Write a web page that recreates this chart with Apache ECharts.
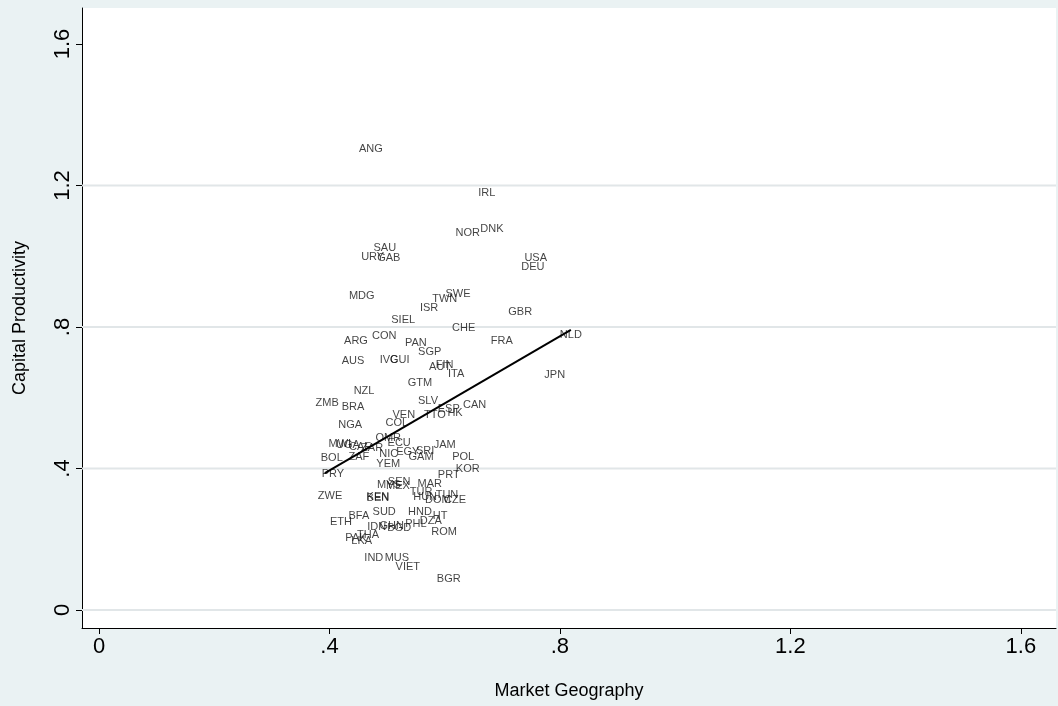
<!DOCTYPE html>
<html>
<head>
<meta charset="utf-8">
<script src="https://cdn.jsdelivr.net/npm/echarts@6/dist/echarts.min.js"></script>
<style>
html,body{margin:0;padding:0;background:#EAF2F3;}
#c{width:1058px;height:706px;}
</style>
</head>
<body>
<div id="c"></div>
<script>
const countries = ["ANG","IRL","NOR","DNK","SAU","URY","GAB","USA","DEU","MDG","SWE","TWN","ISR","GBR","SIEL","CHE","CON","ARG","FRA","NLD","PAN","SGP","AUS","IVC","GUI","FIN","AUT","ITA","JPN","GTM","NZL","ZMB","BRA","SLV","ESP","CAN","TTO","HK","VEN","COL","NGA","OMR","ECU","JAM","MWI","UGA","CAF","ZAR","BOL","ZAF","NIC","EGY","SRI","GAM","POL","YEM","PRY","PRT","KOR","SEN","MYS","MEX","MAR","TUR","HUN","TUN","DOM","CZE","ZWE","KEN","BEN","SUD","BFA","HND","HT","ETH","IDN","GHN","BGD","PHL","DZA","ROM","PAK","THA","LKA","IND","MUS","VIET","BGR"];
const marketGeography = [0.472,0.673,0.640,0.682,0.496,0.475,0.503,0.758,0.753,0.456,0.623,0.600,0.573,0.731,0.528,0.633,0.495,0.446,0.699,0.819,0.550,0.574,0.441,0.503,0.522,0.600,0.592,0.620,0.791,0.557,0.460,0.396,0.441,0.571,0.607,0.652,0.583,0.618,0.529,0.517,0.436,0.502,0.521,0.600,0.418,0.432,0.453,0.474,0.404,0.451,0.503,0.536,0.566,0.559,0.632,0.502,0.406,0.607,0.640,0.521,0.503,0.519,0.574,0.559,0.566,0.604,0.588,0.618,0.401,0.484,0.484,0.495,0.451,0.557,0.592,0.420,0.482,0.508,0.521,0.550,0.576,0.599,0.446,0.467,0.456,0.477,0.517,0.536,0.607];
const capitalProductivity = [1.303,1.179,1.066,1.077,1.023,0.998,0.995,0.995,0.970,0.888,0.893,0.879,0.854,0.842,0.820,0.797,0.775,0.760,0.760,0.777,0.755,0.729,0.704,0.707,0.707,0.693,0.687,0.667,0.664,0.642,0.619,0.585,0.574,0.591,0.568,0.580,0.551,0.557,0.551,0.529,0.523,0.486,0.472,0.466,0.469,0.466,0.461,0.458,0.430,0.432,0.441,0.447,0.449,0.432,0.432,0.413,0.384,0.382,0.399,0.362,0.353,0.351,0.356,0.334,0.319,0.325,0.311,0.311,0.322,0.319,0.317,0.277,0.266,0.277,0.266,0.249,0.235,0.237,0.232,0.243,0.252,0.220,0.204,0.212,0.195,0.147,0.147,0.122,0.088];
const fitX = [0.392, 0.819];
const fitY = [0.387, 0.792];
const tickValues = [0, 0.4, 0.8, 1.2, 1.6];
const tickLabels = ["0", ".4", ".8", "1.2", "1.6"];
const gridValues = [0, 0.4, 0.8, 1.2];
const xMin = -0.0295, xMax = 1.661, yMin = -0.0509, yMax = 1.7018;

const fmt = v => { const i = tickValues.findIndex(t => Math.abs(t - v) < 1e-6); return i >= 0 ? tickLabels[i] : ''; };
const pts = countries.map((c, i) => ({ value: [marketGeography[i], capitalProductivity[i]], name: c }));

const gridSeries = gridValues.map(v => ({
  type: 'line', data: [[xMin, v], [xMax, v]], showSymbol: false, symbol: 'none', silent: true, z: 1,
  lineStyle: { color: '#e1e6e8', width: 2 }
}));

const chart = echarts.init(document.getElementById('c'), null, { renderer: 'canvas' });
chart.setOption({
  backgroundColor: '#EAF2F3',
  animation: false,
  grid: { left: 82, top: 8, right: 2, bottom: 78, show: true, backgroundColor: '#ffffff', borderWidth: 0 },
  xAxis: {
    type: 'value', min: xMin, max: xMax,
    axisLine: { show: true, onZero: false, lineStyle: { color: '#000', width: 1 } },
    axisTick: { show: true, length: 6, customValues: tickValues, lineStyle: { color: '#000' } },
    axisLabel: { customValues: tickValues, formatter: fmt, color: '#000', fontSize: 22, fontFamily: 'Liberation Sans, Arial', margin: 8 },
    splitLine: { show: false },
    name: 'Market Geography', nameLocation: 'middle', nameGap: 54,
    nameTextStyle: { fontSize: 18, color: '#000', fontFamily: 'Liberation Sans, Arial' }
  },
  yAxis: {
    type: 'value', min: yMin, max: yMax,
    axisLine: { show: true, onZero: false, lineStyle: { color: '#000', width: 1 } },
    axisTick: { show: true, length: 6, customValues: tickValues, lineStyle: { color: '#000' } },
    axisLabel: { customValues: tickValues, formatter: fmt, rotate: 90, color: '#000', fontSize: 22, fontFamily: 'Liberation Sans, Arial', margin: 8 },
    splitLine: { show: false },
    name: 'Capital Productivity', nameLocation: 'middle', nameGap: 53, nameRotate: 90,
    nameTextStyle: { fontSize: 18, color: '#000', fontFamily: 'Liberation Sans, Arial' }
  },
  series: gridSeries.concat([
    {
      type: 'scatter', data: pts, symbolSize: 0, silent: true,
      label: { show: true, position: [0, 0], align: 'center', verticalAlign: 'middle', formatter: p => p.name, color: '#111', fontSize: 11, fontFamily: 'Liberation Sans, Arial', textBorderWidth: 0 },
      labelLayout: { hideOverlap: false },
      z: 3
    },
    {
      type: 'line', data: fitX.map((x, i) => [x, fitY[i]]), showSymbol: false, symbol: 'none',
      lineStyle: { color: '#000', width: 2 }, silent: true, z: 4
    }
  ])
});
</script>
</body>
</html>
